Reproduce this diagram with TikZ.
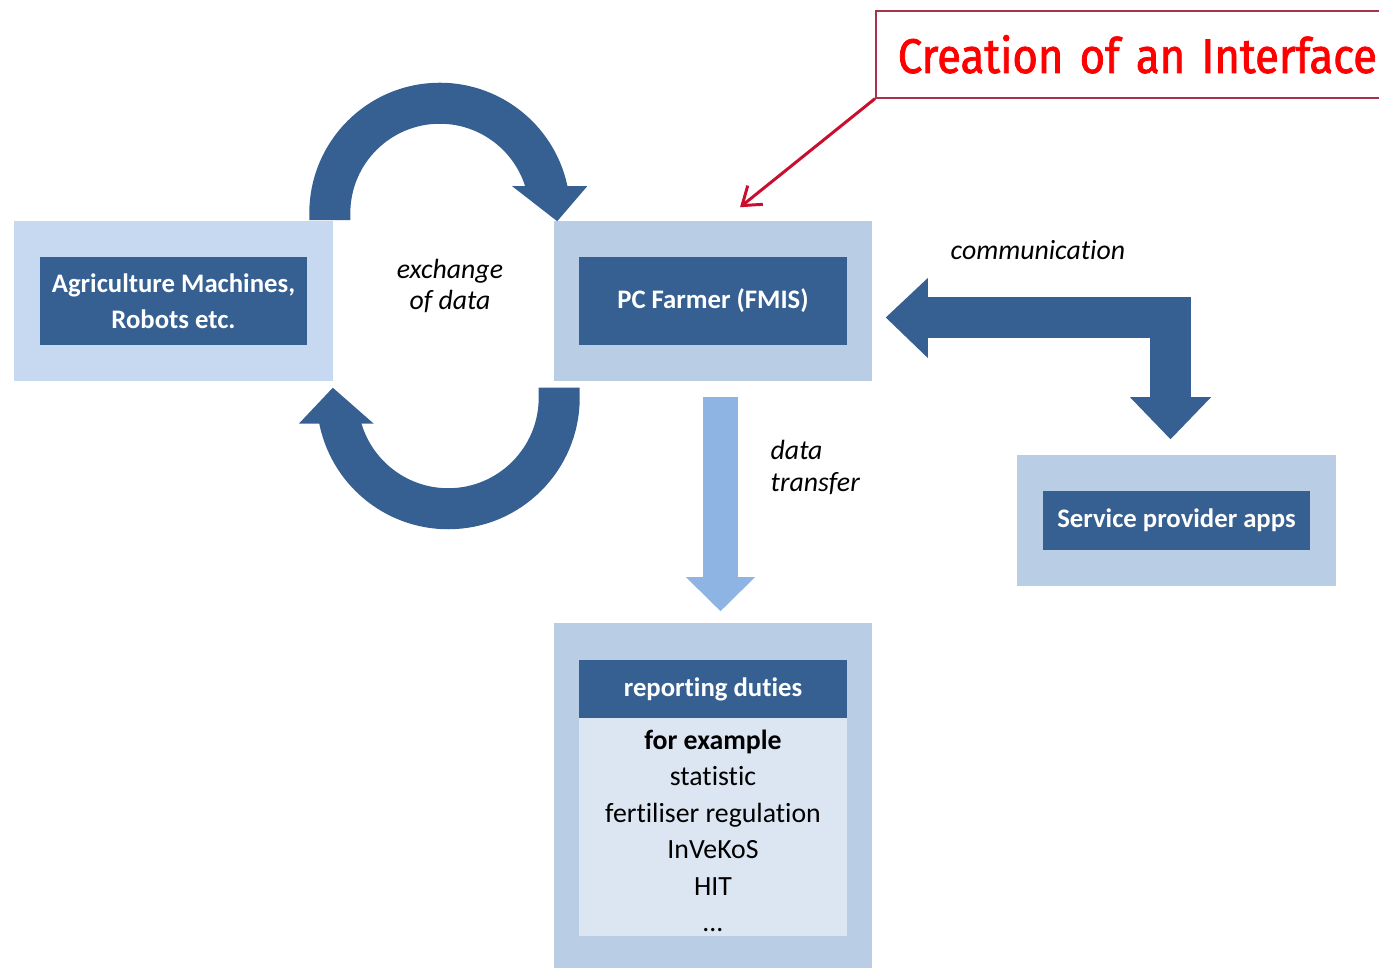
\documentclass[tikz,border=0pt]{standalone}
\usepackage{fontspec}
\setmainfont{Carlito}[Ligatures=CommonOff]
\newfontfamily\titlefont{Fira Sans}[FakeBold=1.6, FakeStretch=0.9, WordSpace=0.75]
\usepackage{tikz}
\usetikzlibrary{positioning,arrows.meta,calc}

\definecolor{fmisblue}{HTML}{376092}
\definecolor{outerpale}{HTML}{C6D9F1}
\definecolor{outerblue}{HTML}{B9CDE5}
\definecolor{xferblue}{HTML}{8EB4E3}
\definecolor{bodyblue}{HTML}{DCE6F2}
\definecolor{calloutred}{HTML}{C8102E}
\definecolor{calloutborder}{HTML}{A8324A}

\begin{document}
\begin{tikzpicture}[
    x=0.01cm, y=0.01cm,
    line join=miter,
    outerbox/.style={fill=outerblue, minimum width=3.18cm, inner sep=0pt},
    innerbox/.style={fill=fmisblue, text=white, font=\fontsize{7.6}{10.3}\selectfont\bfseries,
        align=center, minimum width=2.68cm, inner sep=0pt},
    note/.style={font=\fontsize{7.9}{9}\selectfont\itshape, inner sep=0pt},
    band/.style={draw=fmisblue, line width=0.41cm},
    xfer/.style={draw=xferblue, line width=0.35cm},
    callout/.style={draw=calloutborder, line width=0.45pt, text=red, align=left,
        font=\titlefont\fontsize{13.8}{16}\selectfont,
        minimum height=0.87cm, text width=6cm, inner xsep=0.22cm}
]
\useasboundingbox (0,0) rectangle (1379,-968);

% Machines
\node[outerbox, fill=outerpale, minimum width=3.19cm, minimum height=1.60cm] (machOuter) at (173.5,-301) {};
\node[innerbox, minimum width=2.67cm, minimum height=0.88cm] (mach) at (173.5,-301) {Agriculture Machines,\\Robots etc.};

% PC farmer
\node[outerbox, minimum height=1.60cm] (pcOuter) at (713,-301) {};
\node[innerbox, minimum height=0.88cm] (pc) at (713,-301) {PC Farmer (FMIS)};

% Service provider
\node[outerbox, minimum width=3.19cm, minimum height=1.31cm] (srvOuter) at (1176.5,-520.5) {};
\node[innerbox, minimum width=2.67cm, minimum height=0.59cm] (srv) at (1176.5,-520.5) {Service provider apps};

% Reporting duties
\node[outerbox, minimum height=3.45cm] (repOuter) at (713,-795.5) {};
\node[innerbox, minimum height=0.58cm] (repHead) at (713,-689) {reporting duties};
\node[fill=bodyblue, minimum width=2.68cm, minimum height=2.18cm, inner sep=0pt] (repBody) at (713,-827) {};
\node[align=center, inner sep=0pt, font=\fontsize{7.9}{10.36}\selectfont] (repText) at ($(repBody.center)+(0,-4)$)
    {\textbf{for example}\\statistic\\fertiliser regulation\\InVeKoS\\HIT\\...};

% Callout
\node[callout, anchor=north west] (title) at (875,-10) {Creation of an Interface};
\coordinate (calloutTip) at ($(pcOuter.north)+(27,13)$);
\draw[calloutred, line width=0.85pt, -{Straight Barb[length=0.17cm, width=0.24cm]}] (title.south west) -- (calloutTip);

% Exchange loops
\coordinate (loopTop) at ($(machOuter.north east)+(-4,0)$);
\draw[band] (loopTop) -- ++(0,7) arc[start angle=180, end angle=10, radius=110];
\fill[fmisblue] ($(pcOuter.north west)+(-41,34)$) -- ($(pcOuter.north west)+(34,34)$) -- ($(pcOuter.north west)+(4,-1)$) -- cycle;
\coordinate (loopBot) at ($(pcOuter.south west)+(6,-6)$);
\draw[band] (loopBot) -- ++(0,-10) arc[start angle=0, end angle=-170, radius=111];
\fill[fmisblue] ($(machOuter.south east)+(-35,-42)$) -- ($(machOuter.south east)+(40,-42)$) -- ($(machOuter.south east)+(-1,-6)$) -- cycle;

% Communication
\coordinate (commL) at ($(pcOuter.east)+(55,-16.5)$);
\coordinate (commR) at ($(srvOuter.north)+(-6,57)$);
\draw[band] (commL) -| (commR);
\fill[fmisblue] ($(commL)+(0,39.5)$) -- ($(commL)+(-42,0)$) -- ($(commL)+(0,-40.5)$) -- cycle;
\fill[fmisblue] ($(commR)+(-40.5,0)$) -- ($(commR)+(40.5,0)$) -- ($(srvOuter.north)+(-6,15)$) -- cycle;

% Data transfer
\coordinate (xferTop) at ($(pcOuter.south)+(7.5,-15)$);
\coordinate (xferEnd) at ($(repOuter.north)+(7.5,45)$);
\draw[xfer] (xferTop) -- (xferEnd);
\fill[xferblue] ($(xferEnd)+(-34.5,0)$) -- ($(xferEnd)+(34.5,0)$) -- ($(repOuter.north)+(7.5,11)$) -- cycle;

% Labels
\node[note, align=center] (exchLbl) at (450,-286) {exchange\\of data};
\node[note, anchor=base west] (commLbl) at (950,-260) {communication};
\node[note, align=left, anchor=north west] (xferLbl) at (770,-440) {data\\transfer};

\end{tikzpicture}
\end{document}
